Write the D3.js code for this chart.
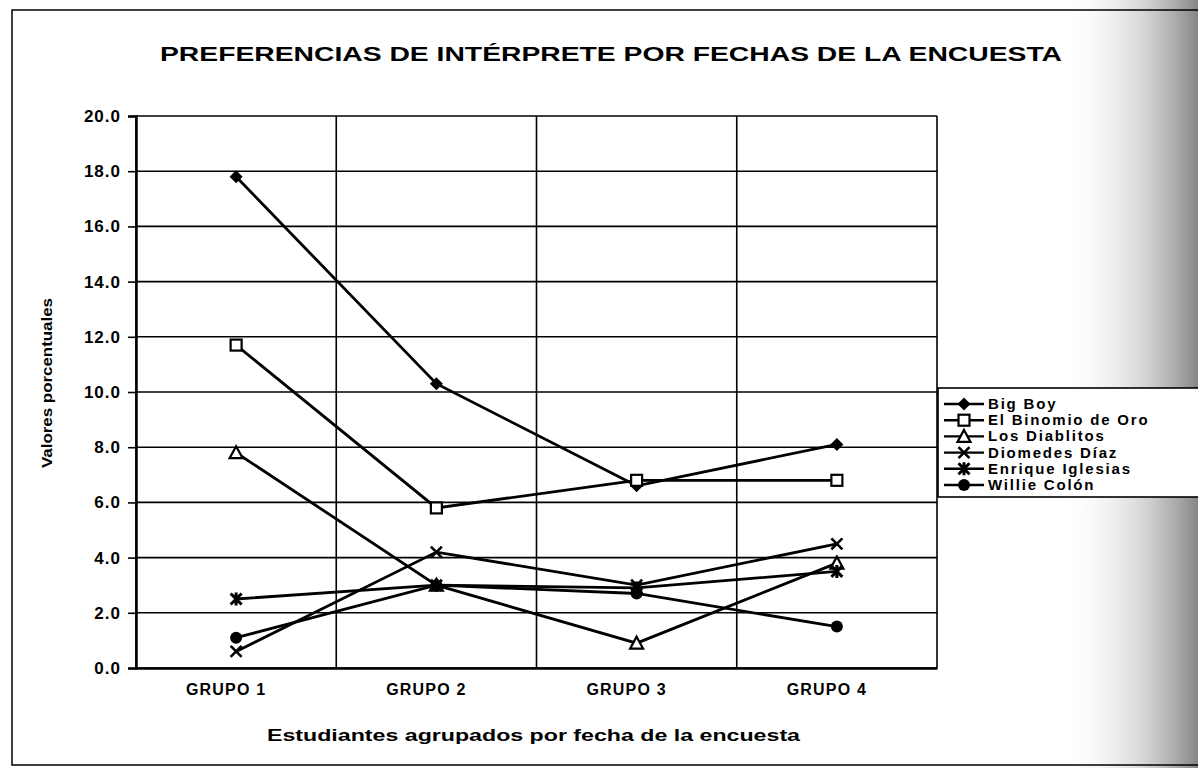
<!DOCTYPE html>
<html><head><meta charset="utf-8">
<script src="https://cdn.jsdelivr.net/npm/d3@7"></script>
<style>html,body{margin:0;padding:0;background:#fff;}svg{display:block;}</style>
</head><body>
<script>
const categories = ["GRUPO 1", "GRUPO 2", "GRUPO 3", "GRUPO 4"];
const seriesNames = ["Big Boy", "El Binomio de Oro", "Los Diablitos", "Diomedes Díaz", "Enrique Iglesias", "Willie Colón"];
const bigBoy    = [17.8, 10.3, 6.6, 8.1];
const binomio   = [11.7, 5.8, 6.8, 6.8];
const diablitos = [7.8, 3.0, 0.9, 3.8];
const diomedes  = [0.6, 4.2, 3.0, 4.5];
const enrique   = [2.5, 3.0, 2.9, 3.5];
const willie    = [1.1, 3.0, 2.7, 1.5];
const markers   = ["diamond", "squareOpen", "triangleOpen", "cross", "star", "circle"];
const yTicks    = [0, 2, 4, 6, 8, 10, 12, 14, 16, 18, 20];
const titleText = "PREFERENCIAS DE INTÉRPRETE POR FECHAS DE LA ENCUESTA";
const xTitle    = "Estudiantes agrupados por fecha de la encuesta";
const yTitle    = "Valores porcentuales";

const seriesValues = [bigBoy, binomio, diablitos, diomedes, enrique, willie];
const W = 1198, H = 768;
const M = {left: 136, right: 937, top: 116, bottom: 668};
const font = "'Liberation Sans', Arial, sans-serif";

const svg = d3.select("body").append("svg").attr("width", W).attr("height", H);

// scanned background shading on the right
const defs = svg.append("defs");
const grad = defs.append("linearGradient").attr("id", "shade").attr("x1", "0").attr("x2", "1").attr("y1", "0").attr("y2", "0");
grad.append("stop").attr("offset", "0").attr("stop-color", "#fff").attr("stop-opacity", 0);
grad.append("stop").attr("offset", "0.55").attr("stop-color", "#bbb").attr("stop-opacity", 0.5);
grad.append("stop").attr("offset", "1").attr("stop-color", "#777").attr("stop-opacity", 0.9);
svg.append("rect").attr("x", 1060).attr("y", 0).attr("width", 138).attr("height", H).attr("fill", "url(#shade)");

// outer frame
svg.append("rect").attr("x", 12).attr("y", 10).attr("width", 1250).attr("height", 755)
  .attr("fill", "none").attr("stroke", "#000").attr("stroke-width", 1.5);

const x = d3.scaleBand().domain(categories).range([M.left, M.right]).padding(0);
const y = d3.scaleLinear().domain([0, 20]).range([M.bottom, M.top]);

// horizontal gridlines
svg.append("g").selectAll("line").data(yTicks).join("line")
  .attr("x1", M.left).attr("x2", M.right)
  .attr("y1", d => y(d)).attr("y2", d => y(d))
  .attr("stroke", "#000").attr("stroke-width", 1.6);

// vertical gridlines at category boundaries
const bounds = categories.map(c => x(c)).concat([x.range()[1]]);
svg.append("g").selectAll("line").data(bounds).join("line")
  .attr("x1", d => d).attr("x2", d => d)
  .attr("y1", M.top).attr("y2", M.bottom)
  .attr("stroke", "#000").attr("stroke-width", 1.6);

// y axis
const yAxis = d3.axisLeft(y).tickValues(yTicks).tickFormat(d3.format(".1f")).tickSize(8).tickPadding(7);
const ya = svg.append("g").attr("transform", `translate(${M.left},0)`).call(yAxis);
ya.select(".domain").attr("stroke-width", 2.5);
ya.selectAll(".tick line").attr("stroke-width", 1.6);
ya.selectAll("text").attr("font-family", font).attr("font-weight", "bold").attr("font-size", 17)
  .attr("letter-spacing", 1).attr("fill", "#000");

// x axis
const xAxis = d3.axisBottom(x).tickSize(0).tickPadding(16);
const xa = svg.append("g").attr("transform", `translate(0,${M.bottom})`).call(xAxis);
xa.select(".domain").attr("stroke-width", 2.5);
xa.selectAll("text").attr("font-family", font).attr("font-weight", "bold").attr("font-size", 16)
  .attr("letter-spacing", 1.2).attr("fill", "#000").attr("dx", -10);

// titles
svg.append("text").attr("x", 160).attr("y", 61).text(titleText)
  .attr("font-family", font).attr("font-weight", "bold").attr("font-size", 21)
  .attr("textLength", 902).attr("lengthAdjust", "spacingAndGlyphs");
svg.append("text").attr("x", 267).attr("y", 741).text(xTitle)
  .attr("font-family", font).attr("font-weight", "bold").attr("font-size", 16)
  .attr("textLength", 533).attr("lengthAdjust", "spacingAndGlyphs");
svg.append("text").attr("transform", "translate(52,383) rotate(-90)").attr("text-anchor", "middle").text(yTitle)
  .attr("font-family", font).attr("font-weight", "bold").attr("font-size", 15)
  .attr("textLength", 170).attr("lengthAdjust", "spacingAndGlyphs");

function drawMarker(g, type, cx, cy) {
  const s = 5.5;
  if (type === "diamond") {
    g.append("path").attr("d", `M${cx},${cy-s-1}L${cx+s+1},${cy}L${cx},${cy+s+1}L${cx-s-1},${cy}Z`).attr("fill", "#000");
  } else if (type === "squareOpen") {
    g.append("rect").attr("x", cx-s).attr("y", cy-s).attr("width", 2*s).attr("height", 2*s)
      .attr("fill", "#fff").attr("stroke", "#000").attr("stroke-width", 2.2);
  } else if (type === "triangleOpen") {
    g.append("path").attr("d", `M${cx},${cy-s-1}L${cx+s+1},${cy+s}L${cx-s-1},${cy+s}Z`)
      .attr("fill", "#fff").attr("stroke", "#000").attr("stroke-width", 2.2);
  } else if (type === "cross") {
    g.append("path").attr("d", `M${cx-s},${cy-s}L${cx+s},${cy+s}M${cx-s},${cy+s}L${cx+s},${cy-s}`)
      .attr("stroke", "#000").attr("stroke-width", 2.6);
  } else if (type === "star") {
    g.append("path").attr("d", `M${cx-s},${cy-s}L${cx+s},${cy+s}M${cx-s},${cy+s}L${cx+s},${cy-s}M${cx},${cy-s-1}L${cx},${cy+s+1}`)
      .attr("stroke", "#000").attr("stroke-width", 3);
  } else if (type === "circle") {
    g.append("circle").attr("cx", cx).attr("cy", cy).attr("r", s+0.5).attr("fill", "#000");
  }
}

const line = d3.line().x((d, i) => x(categories[i]) + x.bandwidth() / 2).y(d => y(d));
const plotG = svg.append("g");
seriesValues.forEach((vals, si) => {
  plotG.append("path").attr("d", line(vals)).attr("fill", "none").attr("stroke", "#000").attr("stroke-width", 2.8);
});
seriesValues.forEach((vals, si) => {
  vals.forEach((v, i) => drawMarker(plotG, markers[si], x(categories[i]) + x.bandwidth() / 2, y(v)));
});

// legend
const L = {x: 938, y: 388, w: 300, row: 16.2};
svg.append("rect").attr("x", L.x).attr("y", L.y).attr("width", L.w).attr("height", 16 + L.row * 5 + 12)
  .attr("fill", "#fff").attr("stroke", "#000").attr("stroke-width", 1.6);
seriesNames.forEach((name, i) => {
  const cy = L.y + 16 + i * L.row;
  const g = svg.append("g");
  g.append("line").attr("x1", L.x + 6).attr("x2", L.x + 46).attr("y1", cy).attr("y2", cy)
    .attr("stroke", "#000").attr("stroke-width", 2.4);
  drawMarker(g, markers[i], L.x + 26, cy);
  g.append("text").attr("x", L.x + 50).attr("y", cy + 5).text(name)
    .attr("font-family", font).attr("font-weight", "bold").attr("font-size", 15).attr("letter-spacing", 1.8);
});
</script>
</body></html>
